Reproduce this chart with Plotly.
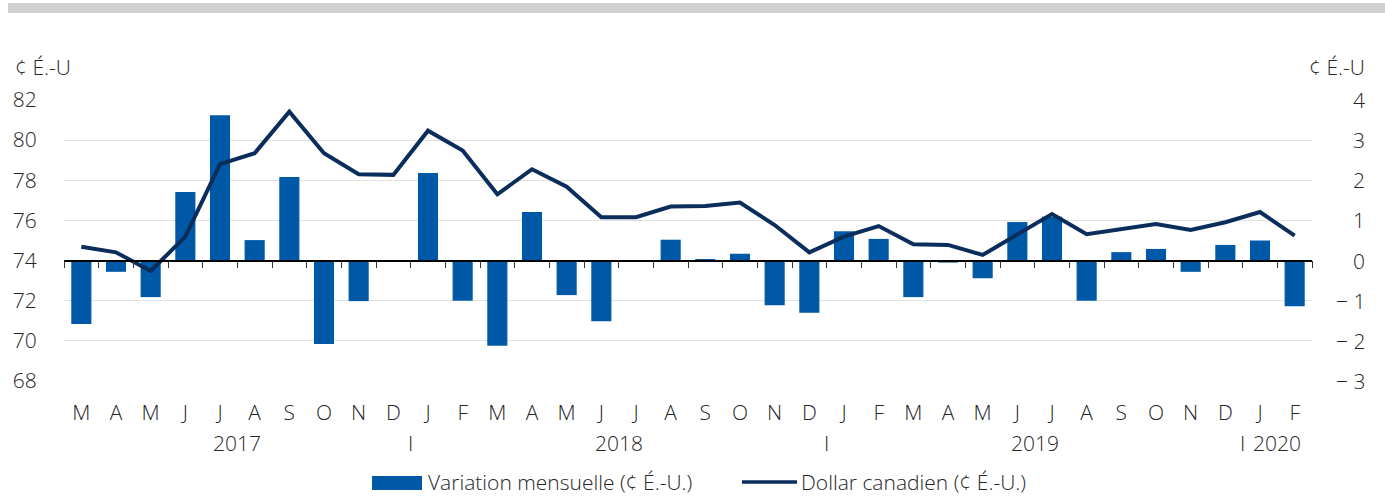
import plotly.graph_objects as go

months = ["M","A","M","J","J","A","S","O","N","D",
          "J","F","M","A","M","J","J","A","S","O","N","D",
          "J","F","M","A","M","J","J","A","S","O","N","D",
          "J","F"]

cad_level = [74.69, 74.41, 73.48, 75.19, 78.81, 79.35, 81.42, 79.35, 78.30, 78.27,
             80.47, 79.48, 77.30, 78.55, 77.68, 76.16, 76.16, 76.69, 76.72, 76.89, 75.77, 74.41,
             75.19, 75.72, 74.81, 74.78, 74.28, 75.31, 76.32, 75.31, 75.56, 75.82, 75.52, 75.91,
             76.42, 75.24]

monthly_change = [-1.58, -0.28, -0.91, 1.71, 3.62, 0.51, 2.08, -2.08, -1.01, 0.0,
                  2.18, -1.00, -2.12, 1.21, -0.86, -1.51, 0.0, 0.52, 0.02, 0.17, -1.11, -1.30,
                  0.73, 0.54, -0.91, -0.05, -0.44, 0.96, 1.09, -1.00, 0.21, 0.29, -0.28, 0.39,
                  0.50, -1.14]

years = ["2017", "2018", "2019", "2020"]
year_first_idx = [0, 10, 22, 34]
year_last_idx = [9, 21, 33, 35]

left_ticks = [68, 70, 72, 74, 76, 78, 80, 82]
right_ticks = [-3, -2, -1, 0, 1, 2, 3, 4]
right_ticktext = ["− 3", "− 2", "− 1", "0", "1", "2", "3", "4"]

bar_name = "Variation mensuelle (¢ É.-U.)"
line_name = "Dollar canadien (¢ É.-U.)"
unit_label = "¢ É.-U"

BAR_COLOR = "#0059A6"
LINE_COLOR = "#0B2D5B"
TEXT_COLOR = "#262626"
FONT = "Open Sans"
FS = 21
FW = 300

n = len(months)
x = list(range(n))

W, H = 1385, 498
ML, MR, MT, MB = 64, 73, 100, 117
PW = W - ML - MR
PH = H - MT - MB


def px2paper_x(px):
    return (px - ML) / PW


def px2paper_y(py):
    return (H - MB - py) / PH


def tfont():
    return dict(family=FONT, size=FS, color=TEXT_COLOR, weight=FW)


fig = go.Figure()
# bars on the base subplot (right-hand scale)
fig.add_trace(go.Bar(x=x, y=monthly_change, xaxis="x", yaxis="y", width=0.58,
                     marker=dict(color=BAR_COLOR, line=dict(width=0)),
                     name=bar_name, showlegend=False))
# invisible helper trace so the zero-line axis (x2) is rendered
fig.add_trace(go.Scatter(x=x, y=monthly_change, mode="lines", xaxis="x2", yaxis="y",
                         line=dict(width=0, color="rgba(0,0,0,0)"), opacity=0,
                         hoverinfo="skip", showlegend=False))
# level line on the overlaying left-hand scale, drawn above the bars
fig.add_trace(go.Scatter(x=x, y=cad_level, mode="lines", xaxis="x", yaxis="y2",
                         line=dict(color=LINE_COLOR, width=4),
                         name=line_name, showlegend=False))

zero_pos = (0 - (-3)) / (4 - (-3))

fig.update_layout(
    width=W, height=H,
    margin=dict(l=ML, r=MR, t=MT, b=MB),
    paper_bgcolor="white", plot_bgcolor="white",
    font=tfont(),
    xaxis=dict(range=[-0.5, n - 0.5], tickvals=x, ticktext=months,
               ticks="outside", ticklen=13, tickcolor="rgba(0,0,0,0)",
               showgrid=False, showline=False, zeroline=False, tickfont=tfont()),
    xaxis2=dict(range=[-0.5, n - 0.5], overlaying="x", anchor="free", position=zero_pos,
                tickvals=[i - 0.5 for i in range(n + 1)], ticks="outside", ticklen=7,
                tickcolor="#333333", tickwidth=1.2,
                showline=True, linecolor="#000000", linewidth=1.5,
                showticklabels=False, showgrid=False, zeroline=False),
    yaxis=dict(range=[-3, 4], tickvals=right_ticks, showgrid=True, gridcolor="#e2e2e2",
               gridwidth=1, zeroline=False, showline=False, side="right",
               showticklabels=False),
    yaxis2=dict(range=[68, 82], tickvals=left_ticks, overlaying="y", side="left",
                showgrid=False, zeroline=False, showline=False,
                ticks="outside", ticklen=22, tickcolor="rgba(0,0,0,0)", tickfont=tfont()),
)

annotations = []
for v, t in zip(right_ticks, right_ticktext):
    annotations.append(dict(x=px2paper_x(1367), xref="paper", xanchor="right",
                            y=v, yref="y", yanchor="middle", text=t, showarrow=False,
                            font=tfont()))
annotations.append(dict(x=px2paper_x(13), xref="paper", xanchor="left",
                        y=px2paper_y(67), yref="paper", yanchor="middle", text=unit_label,
                        showarrow=False, font=tfont()))
annotations.append(dict(x=px2paper_x(1367), xref="paper", xanchor="right",
                        y=px2paper_y(67), yref="paper", yanchor="middle", text=unit_label,
                        showarrow=False, font=tfont()))
year_y = px2paper_y(443)
for yr, a, b in zip(years, year_first_idx, year_last_idx):
    annotations.append(dict(x=(a + b) / 2, xref="x", y=year_y, yref="paper", yanchor="middle",
                            xanchor="center", text=yr, showarrow=False, font=tfont()))
for a in year_first_idx[1:]:
    annotations.append(dict(x=a - 0.5, xref="x", y=year_y, yref="paper", yanchor="middle",
                            xanchor="center", text="I", showarrow=False, font=tfont()))
leg_y = px2paper_y(482)
annotations.append(dict(x=px2paper_x(426), xref="paper", xanchor="left", y=leg_y, yref="paper",
                        yanchor="middle", text=bar_name, showarrow=False, font=tfont()))
annotations.append(dict(x=px2paper_x(799), xref="paper", xanchor="left", y=leg_y, yref="paper",
                        yanchor="middle", text=line_name, showarrow=False, font=tfont()))
fig.update_layout(annotations=annotations)

shapes = [
    dict(type="rect", xref="paper", yref="paper",
         x0=px2paper_x(8), x1=px2paper_x(1385), y0=px2paper_y(13), y1=px2paper_y(3),
         fillcolor="#d1d1d3", line=dict(width=0), layer="below"),
    dict(type="rect", xref="paper", yref="paper",
         x0=px2paper_x(372), x1=px2paper_x(422), y0=px2paper_y(490), y1=px2paper_y(476),
         fillcolor=BAR_COLOR, line=dict(width=0)),
    dict(type="line", xref="paper", yref="paper",
         x0=px2paper_x(742), x1=px2paper_x(797), y0=leg_y, y1=leg_y,
         line=dict(color=LINE_COLOR, width=3.5)),
]
fig.update_layout(shapes=shapes)

fig.write_html("out.html")
